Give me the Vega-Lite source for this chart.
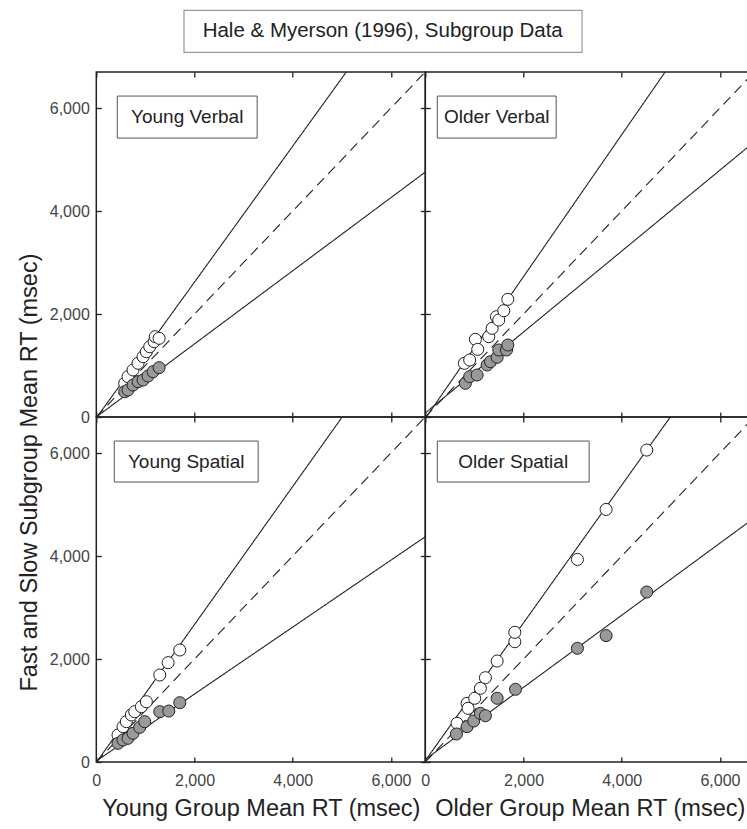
{
  "$schema": "https://vega.github.io/schema/vega-lite/v6.json",
  "padding": {"left": 16, "top": 9, "right": 0, "bottom": 0},
  "datasets": {
    "pts": [
      {"panel": "Young Verbal", "subgroup": "Slow", "group_rt": 578, "sub_rt": 654},
      {"panel": "Young Verbal", "subgroup": "Slow", "group_rt": 646, "sub_rt": 783},
      {"panel": "Young Verbal", "subgroup": "Slow", "group_rt": 748, "sub_rt": 913},
      {"panel": "Young Verbal", "subgroup": "Slow", "group_rt": 850, "sub_rt": 1043},
      {"panel": "Young Verbal", "subgroup": "Slow", "group_rt": 953, "sub_rt": 1171},
      {"panel": "Young Verbal", "subgroup": "Slow", "group_rt": 1020, "sub_rt": 1268},
      {"panel": "Young Verbal", "subgroup": "Slow", "group_rt": 1088, "sub_rt": 1365},
      {"panel": "Young Verbal", "subgroup": "Slow", "group_rt": 1177, "sub_rt": 1462},
      {"panel": "Young Verbal", "subgroup": "Slow", "group_rt": 1200, "sub_rt": 1560},
      {"panel": "Young Verbal", "subgroup": "Slow", "group_rt": 1279, "sub_rt": 1528},
      {"panel": "Young Verbal", "subgroup": "Fast", "group_rt": 578, "sub_rt": 491},
      {"panel": "Young Verbal", "subgroup": "Fast", "group_rt": 646, "sub_rt": 524},
      {"panel": "Young Verbal", "subgroup": "Fast", "group_rt": 748, "sub_rt": 621},
      {"panel": "Young Verbal", "subgroup": "Fast", "group_rt": 850, "sub_rt": 686},
      {"panel": "Young Verbal", "subgroup": "Fast", "group_rt": 953, "sub_rt": 718},
      {"panel": "Young Verbal", "subgroup": "Fast", "group_rt": 1054, "sub_rt": 796},
      {"panel": "Young Verbal", "subgroup": "Fast", "group_rt": 1156, "sub_rt": 880},
      {"panel": "Young Verbal", "subgroup": "Fast", "group_rt": 1279, "sub_rt": 958},

      {"panel": "Older Verbal", "subgroup": "Slow", "group_rt": 796, "sub_rt": 1042},
      {"panel": "Older Verbal", "subgroup": "Slow", "group_rt": 904, "sub_rt": 1107},
      {"panel": "Older Verbal", "subgroup": "Slow", "group_rt": 1020, "sub_rt": 1508},
      {"panel": "Older Verbal", "subgroup": "Slow", "group_rt": 1068, "sub_rt": 1314},
      {"panel": "Older Verbal", "subgroup": "Slow", "group_rt": 1292, "sub_rt": 1560},
      {"panel": "Older Verbal", "subgroup": "Slow", "group_rt": 1361, "sub_rt": 1722},
      {"panel": "Older Verbal", "subgroup": "Slow", "group_rt": 1449, "sub_rt": 1948},
      {"panel": "Older Verbal", "subgroup": "Slow", "group_rt": 1496, "sub_rt": 1883},
      {"panel": "Older Verbal", "subgroup": "Slow", "group_rt": 1598, "sub_rt": 2064},
      {"panel": "Older Verbal", "subgroup": "Slow", "group_rt": 1680, "sub_rt": 2285},
      {"panel": "Older Verbal", "subgroup": "Fast", "group_rt": 816, "sub_rt": 654},
      {"panel": "Older Verbal", "subgroup": "Fast", "group_rt": 904, "sub_rt": 783},
      {"panel": "Older Verbal", "subgroup": "Fast", "group_rt": 1055, "sub_rt": 816},
      {"panel": "Older Verbal", "subgroup": "Fast", "group_rt": 1259, "sub_rt": 1010},
      {"panel": "Older Verbal", "subgroup": "Fast", "group_rt": 1327, "sub_rt": 1074},
      {"panel": "Older Verbal", "subgroup": "Fast", "group_rt": 1463, "sub_rt": 1159},
      {"panel": "Older Verbal", "subgroup": "Fast", "group_rt": 1496, "sub_rt": 1301},
      {"panel": "Older Verbal", "subgroup": "Fast", "group_rt": 1653, "sub_rt": 1301},
      {"panel": "Older Verbal", "subgroup": "Fast", "group_rt": 1680, "sub_rt": 1398},

      {"panel": "Young Spatial", "subgroup": "Slow", "group_rt": 442, "sub_rt": 524},
      {"panel": "Young Spatial", "subgroup": "Slow", "group_rt": 544, "sub_rt": 686},
      {"panel": "Young Spatial", "subgroup": "Slow", "group_rt": 612, "sub_rt": 783},
      {"panel": "Young Spatial", "subgroup": "Slow", "group_rt": 714, "sub_rt": 913},
      {"panel": "Young Spatial", "subgroup": "Slow", "group_rt": 782, "sub_rt": 977},
      {"panel": "Young Spatial", "subgroup": "Slow", "group_rt": 918, "sub_rt": 1074},
      {"panel": "Young Spatial", "subgroup": "Slow", "group_rt": 1020, "sub_rt": 1171},
      {"panel": "Young Spatial", "subgroup": "Slow", "group_rt": 1293, "sub_rt": 1689},
      {"panel": "Young Spatial", "subgroup": "Slow", "group_rt": 1463, "sub_rt": 1929},
      {"panel": "Young Spatial", "subgroup": "Slow", "group_rt": 1700, "sub_rt": 2175},
      {"panel": "Young Spatial", "subgroup": "Fast", "group_rt": 442, "sub_rt": 363},
      {"panel": "Young Spatial", "subgroup": "Fast", "group_rt": 544, "sub_rt": 427},
      {"panel": "Young Spatial", "subgroup": "Fast", "group_rt": 646, "sub_rt": 460},
      {"panel": "Young Spatial", "subgroup": "Fast", "group_rt": 748, "sub_rt": 557},
      {"panel": "Young Spatial", "subgroup": "Fast", "group_rt": 884, "sub_rt": 673},
      {"panel": "Young Spatial", "subgroup": "Fast", "group_rt": 986, "sub_rt": 783},
      {"panel": "Young Spatial", "subgroup": "Fast", "group_rt": 1293, "sub_rt": 977},
      {"panel": "Young Spatial", "subgroup": "Fast", "group_rt": 1476, "sub_rt": 990},
      {"panel": "Young Spatial", "subgroup": "Fast", "group_rt": 1700, "sub_rt": 1152},

      {"panel": "Older Spatial", "subgroup": "Slow", "group_rt": 647, "sub_rt": 751},
      {"panel": "Older Spatial", "subgroup": "Slow", "group_rt": 851, "sub_rt": 1139},
      {"panel": "Older Spatial", "subgroup": "Slow", "group_rt": 871, "sub_rt": 1042},
      {"panel": "Older Spatial", "subgroup": "Slow", "group_rt": 1006, "sub_rt": 1237},
      {"panel": "Older Spatial", "subgroup": "Slow", "group_rt": 1122, "sub_rt": 1431},
      {"panel": "Older Spatial", "subgroup": "Slow", "group_rt": 1224, "sub_rt": 1637},
      {"panel": "Older Spatial", "subgroup": "Slow", "group_rt": 1463, "sub_rt": 1961},
      {"panel": "Older Spatial", "subgroup": "Slow", "group_rt": 1823, "sub_rt": 2336},
      {"panel": "Older Spatial", "subgroup": "Slow", "group_rt": 1823, "sub_rt": 2518},
      {"panel": "Older Spatial", "subgroup": "Slow", "group_rt": 3098, "sub_rt": 3934},
      {"panel": "Older Spatial", "subgroup": "Slow", "group_rt": 3682, "sub_rt": 4905},
      {"panel": "Older Spatial", "subgroup": "Slow", "group_rt": 4510, "sub_rt": 6058},
      {"panel": "Older Spatial", "subgroup": "Fast", "group_rt": 633, "sub_rt": 544},
      {"panel": "Older Spatial", "subgroup": "Fast", "group_rt": 851, "sub_rt": 686},
      {"panel": "Older Spatial", "subgroup": "Fast", "group_rt": 986, "sub_rt": 796},
      {"panel": "Older Spatial", "subgroup": "Fast", "group_rt": 1122, "sub_rt": 945},
      {"panel": "Older Spatial", "subgroup": "Fast", "group_rt": 1224, "sub_rt": 899},
      {"panel": "Older Spatial", "subgroup": "Fast", "group_rt": 1463, "sub_rt": 1237},
      {"panel": "Older Spatial", "subgroup": "Fast", "group_rt": 1837, "sub_rt": 1411},
      {"panel": "Older Spatial", "subgroup": "Fast", "group_rt": 3098, "sub_rt": 2208},
      {"panel": "Older Spatial", "subgroup": "Fast", "group_rt": 3682, "sub_rt": 2454},
      {"panel": "Older Spatial", "subgroup": "Fast", "group_rt": 4510, "sub_rt": 3301}
    ],
    "fits": [
      {"panel": "Young Verbal", "fit": "identity", "x": 0, "y": 0},
      {"panel": "Young Verbal", "fit": "identity", "x": 7000, "y": 7000},
      {"panel": "Young Verbal", "fit": "slow", "x": 0, "y": -20},
      {"panel": "Young Verbal", "fit": "slow", "x": 7000, "y": 9220},
      {"panel": "Young Verbal", "fit": "fast", "x": 0, "y": 0},
      {"panel": "Young Verbal", "fit": "fast", "x": 7000, "y": 4970},
      {"panel": "Older Verbal", "fit": "identity", "x": 0, "y": 0},
      {"panel": "Older Verbal", "fit": "identity", "x": 7000, "y": 7000},
      {"panel": "Older Verbal", "fit": "slow", "x": 0, "y": -30},
      {"panel": "Older Verbal", "fit": "slow", "x": 7000, "y": 9616},
      {"panel": "Older Verbal", "fit": "fast", "x": 0, "y": 78},
      {"panel": "Older Verbal", "fit": "fast", "x": 7000, "y": 5580},
      {"panel": "Young Spatial", "fit": "identity", "x": 0, "y": 0},
      {"panel": "Young Spatial", "fit": "identity", "x": 7000, "y": 7000},
      {"panel": "Young Spatial", "fit": "slow", "x": 0, "y": -10},
      {"panel": "Young Spatial", "fit": "slow", "x": 7000, "y": 9370},
      {"panel": "Young Spatial", "fit": "fast", "x": 0, "y": 20},
      {"panel": "Young Spatial", "fit": "fast", "x": 7000, "y": 4570},
      {"panel": "Older Spatial", "fit": "identity", "x": 0, "y": 0},
      {"panel": "Older Spatial", "fit": "identity", "x": 7000, "y": 7000},
      {"panel": "Older Spatial", "fit": "slow", "x": 0, "y": 26},
      {"panel": "Older Spatial", "fit": "slow", "x": 7000, "y": 9389},
      {"panel": "Older Spatial", "fit": "fast", "x": 0, "y": 50},
      {"panel": "Older Spatial", "fit": "fast", "x": 7000, "y": 4950}
    ]
  },
  "vconcat": [
    {
      "data": {"values": [{"label": "Hale & Myerson (1996), Subgroup Data"}]},
      "width": 398,
      "height": 42,
      "view": {"stroke": "#999", "strokeWidth": 1.2},
      "mark": {"type": "text", "fontSize": 20.5, "font": "Liberation Sans", "color": "#222"},
      "encoding": {
        "text": {"field": "label"},
        "y": {"datum": 0.5, "type": "quantitative", "scale": {"domain": [0, 1]}, "axis": {"orient": "right", "title": ".", "titleColor": "transparent", "titleFontSize": 4, "titlePadding": 82, "labels": false, "ticks": false, "domain": false}}
      }
    },
    {
      "columns": 2,
      "spacing": 0,
      "bounds": "flush",
      "concat": [
        {
          "width": 329, "height": 345,
          "layer": [
            {
              "data": {"name": "fits"},
              "transform": [{"filter": "datum.panel === 'Young Verbal'"}],
              "mark": {"type": "line", "clip": true, "color": "#222", "strokeWidth": 1.1},
              "encoding": {
                "x": {"field": "x", "type": "quantitative", "scale": {"domain": [0, 6700], "nice": false, "zero": false}, "axis": {"orient": "top", "values": [0, 2000, 4000, 6000], "labels": false, "title": null, "tickSize": 5, "offset": -5}},
                "y": {"field": "y", "type": "quantitative", "scale": {"domain": [0, 6700], "nice": false, "zero": false}, "axis": {"orient": "right", "values": [0, 2000, 4000, 6000], "labels": false, "title": null, "tickSize": 5, "offset": -5}},
                "detail": {"field": "fit"},
                "strokeDash": {"field": "fit", "scale": {"domain": ["identity", "slow", "fast"], "range": [[10, 6], [1, 0], [1, 0]]}, "legend": null}
              }
            },
            {
              "data": {"name": "pts"},
              "transform": [{"filter": "datum.panel === 'Young Verbal'"}],
              "mark": {"type": "point", "filled": true, "size": 145, "stroke": "#222", "strokeWidth": 1, "opacity": 1},
              "encoding": {
                "x": {"field": "group_rt", "type": "quantitative", "axis": {"orient": "bottom", "values": [0, 2000, 4000, 6000], "labels": false, "title": null, "tickSize": 5, "offset": -5}},
                "y": {"field": "sub_rt", "type": "quantitative", "axis": {"orient": "left", "values": [0, 2000, 4000, 6000], "labelExpr": "format(datum.value, ',')", "tickSize": 5, "offset": -5, "labelPadding": 7, "title": "Fast and Slow Subgroup Mean RT (msec)", "titleX": -60, "titleY": 400, "titleAngle": -90, "titleAlign": "center", "titleBaseline": "bottom"}},
                "fill": {"field": "subgroup", "scale": {"domain": ["Slow", "Fast"], "range": ["#ffffff", "#999999"]}, "legend": null}
              }
            },
            {
              "data": {"values": [{"panel": "Young Verbal"}]},
              "mark": {"type": "rect", "fill": "white", "stroke": "#555", "strokeWidth": 1},
              "encoding": {"x": {"datum": 427, "axis": null}, "x2": {"datum": 3276}, "y": {"datum": 6233, "axis": null}, "y2": {"datum": 5417}}
            },
            {
              "data": {"values": [{"panel": "Young Verbal"}]},
              "mark": {"type": "text", "fontSize": 19, "font": "Liberation Sans", "color": "#222"},
              "encoding": {"x": {"datum": 1851, "axis": null}, "y": {"datum": 5825, "axis": null}, "text": {"field": "panel"}}
            }
          ],
          "resolve": {"axis": {"x": "independent", "y": "independent"}}
        },
        {
          "width": 329, "height": 345,
          "layer": [
            {
              "data": {"name": "fits"},
              "transform": [{"filter": "datum.panel === 'Older Verbal'"}],
              "mark": {"type": "line", "clip": true, "color": "#222", "strokeWidth": 1.1},
              "encoding": {
                "x": {"field": "x", "type": "quantitative", "scale": {"domain": [0, 6700], "nice": false, "zero": false}, "axis": {"orient": "top", "values": [0, 2000, 4000, 6000], "labels": false, "title": null, "tickSize": 5, "offset": -5}},
                "y": {"field": "y", "type": "quantitative", "scale": {"domain": [0, 6700], "nice": false, "zero": false}, "axis": {"orient": "right", "values": [0, 2000, 4000, 6000], "labels": false, "title": null, "tickSize": 5, "offset": -5}},
                "detail": {"field": "fit"},
                "strokeDash": {"field": "fit", "scale": {"domain": ["identity", "slow", "fast"], "range": [[10, 6], [1, 0], [1, 0]]}, "legend": null}
              }
            },
            {
              "data": {"name": "pts"},
              "transform": [{"filter": "datum.panel === 'Older Verbal'"}],
              "mark": {"type": "point", "filled": true, "size": 145, "stroke": "#222", "strokeWidth": 1, "opacity": 1},
              "encoding": {
                "x": {"field": "group_rt", "type": "quantitative", "axis": {"orient": "bottom", "values": [0, 2000, 4000, 6000], "labels": false, "title": null, "tickSize": 5, "offset": -5}},
                "y": {"field": "sub_rt", "type": "quantitative", "axis": {"orient": "left", "values": [0, 2000, 4000, 6000], "labels": false, "title": null, "tickSize": 5, "offset": -5}},
                "fill": {"field": "subgroup", "scale": {"domain": ["Slow", "Fast"], "range": ["#ffffff", "#999999"]}, "legend": null}
              }
            },
            {
              "data": {"values": [{"panel": "Older Verbal"}]},
              "mark": {"type": "rect", "fill": "white", "stroke": "#555", "strokeWidth": 1},
              "encoding": {"x": {"datum": 244, "axis": null}, "x2": {"datum": 2665}, "y": {"datum": 6233, "axis": null}, "y2": {"datum": 5417}}
            },
            {
              "data": {"values": [{"panel": "Older Verbal"}]},
              "mark": {"type": "text", "fontSize": 19, "font": "Liberation Sans", "color": "#222"},
              "encoding": {"x": {"datum": 1455, "axis": null}, "y": {"datum": 5825, "axis": null}, "text": {"field": "panel"}}
            }
          ],
          "resolve": {"axis": {"x": "independent", "y": "independent"}}
        },
        {
          "width": 329, "height": 345,
          "layer": [
            {
              "data": {"name": "fits"},
              "transform": [{"filter": "datum.panel === 'Young Spatial'"}],
              "mark": {"type": "line", "clip": true, "color": "#222", "strokeWidth": 1.1},
              "encoding": {
                "x": {"field": "x", "type": "quantitative", "scale": {"domain": [0, 6700], "nice": false, "zero": false}, "axis": {"orient": "top", "values": [0, 2000, 4000, 6000], "labels": false, "title": null, "tickSize": 5, "offset": -5}},
                "y": {"field": "y", "type": "quantitative", "scale": {"domain": [0, 6700], "nice": false, "zero": false}, "axis": {"orient": "right", "values": [0, 2000, 4000, 6000], "labels": false, "title": null, "tickSize": 5, "offset": -5}},
                "detail": {"field": "fit"},
                "strokeDash": {"field": "fit", "scale": {"domain": ["identity", "slow", "fast"], "range": [[10, 6], [1, 0], [1, 0]]}, "legend": null}
              }
            },
            {
              "data": {"name": "pts"},
              "transform": [{"filter": "datum.panel === 'Young Spatial'"}],
              "mark": {"type": "point", "filled": true, "size": 145, "stroke": "#222", "strokeWidth": 1, "opacity": 1},
              "encoding": {
                "x": {"field": "group_rt", "type": "quantitative", "axis": {"orient": "bottom", "values": [0, 2000, 4000, 6000], "labelExpr": "format(datum.value, ',')", "tickSize": 5, "offset": -5, "labelPadding": 10, "title": "Young Group Mean RT (msec)", "titlePadding": 8}},
                "y": {"field": "sub_rt", "type": "quantitative", "axis": {"orient": "left", "values": [0, 2000, 4000, 6000], "labelExpr": "format(datum.value, ',')", "tickSize": 5, "offset": -5, "labelPadding": 7, "title": null}},
                "fill": {"field": "subgroup", "scale": {"domain": ["Slow", "Fast"], "range": ["#ffffff", "#999999"]}, "legend": null}
              }
            },
            {
              "data": {"values": [{"panel": "Young Spatial"}]},
              "mark": {"type": "rect", "fill": "white", "stroke": "#555", "strokeWidth": 1},
              "encoding": {"x": {"datum": 366, "axis": null}, "x2": {"datum": 3296}, "y": {"datum": 6233, "axis": null}, "y2": {"datum": 5437}}
            },
            {
              "data": {"values": [{"panel": "Young Spatial"}]},
              "mark": {"type": "text", "fontSize": 19, "font": "Liberation Sans", "color": "#222"},
              "encoding": {"x": {"datum": 1831, "axis": null}, "y": {"datum": 5835, "axis": null}, "text": {"field": "panel"}}
            }
          ],
          "resolve": {"axis": {"x": "independent", "y": "independent"}}
        },
        {
          "width": 329, "height": 345,
          "layer": [
            {
              "data": {"name": "fits"},
              "transform": [{"filter": "datum.panel === 'Older Spatial'"}],
              "mark": {"type": "line", "clip": true, "color": "#222", "strokeWidth": 1.1},
              "encoding": {
                "x": {"field": "x", "type": "quantitative", "scale": {"domain": [0, 6700], "nice": false, "zero": false}, "axis": {"orient": "top", "values": [0, 2000, 4000, 6000], "labels": false, "title": null, "tickSize": 5, "offset": -5}},
                "y": {"field": "y", "type": "quantitative", "scale": {"domain": [0, 6700], "nice": false, "zero": false}, "axis": {"orient": "right", "values": [0, 2000, 4000, 6000], "labels": false, "title": null, "tickSize": 5, "offset": -5}},
                "detail": {"field": "fit"},
                "strokeDash": {"field": "fit", "scale": {"domain": ["identity", "slow", "fast"], "range": [[10, 6], [1, 0], [1, 0]]}, "legend": null}
              }
            },
            {
              "data": {"name": "pts"},
              "transform": [{"filter": "datum.panel === 'Older Spatial'"}],
              "mark": {"type": "point", "filled": true, "size": 145, "stroke": "#222", "strokeWidth": 1, "opacity": 1},
              "encoding": {
                "x": {"field": "group_rt", "type": "quantitative", "axis": {"orient": "bottom", "values": [0, 2000, 4000, 6000], "labelExpr": "format(datum.value, ',')", "tickSize": 5, "offset": -5, "labelPadding": 10, "title": "Older Group Mean RT (msec)", "titlePadding": 8}},
                "y": {"field": "sub_rt", "type": "quantitative", "axis": {"orient": "left", "values": [0, 2000, 4000, 6000], "labels": false, "title": null, "tickSize": 5, "offset": -5}},
                "fill": {"field": "subgroup", "scale": {"domain": ["Slow", "Fast"], "range": ["#ffffff", "#999999"]}, "legend": null}
              }
            },
            {
              "data": {"values": [{"panel": "Older Spatial"}]},
              "mark": {"type": "rect", "fill": "white", "stroke": "#555", "strokeWidth": 1},
              "encoding": {"x": {"datum": 244, "axis": null}, "x2": {"datum": 3337}, "y": {"datum": 6233, "axis": null}, "y2": {"datum": 5437}}
            },
            {
              "data": {"values": [{"panel": "Older Spatial"}]},
              "mark": {"type": "text", "fontSize": 19, "font": "Liberation Sans", "color": "#222"},
              "encoding": {"x": {"datum": 1790, "axis": null}, "y": {"datum": 5835, "axis": null}, "text": {"field": "panel"}}
            }
          ],
          "resolve": {"axis": {"x": "independent", "y": "independent"}}
        }
      ]
    }
  ],
  "center": true,
  "spacing": 17,
  "config": {
    "view": {"stroke": "#222", "strokeWidth": 1.5},
    "axis": {
      "labelFont": "Liberation Sans", "labelFontSize": 16, "labelColor": "#444", "labelFlush": false,
      "tickColor": "#222", "tickWidth": 1.3, "domain": false, "grid": false,
      "titleFont": "Liberation Sans", "titleFontSize": 23.5, "titleFontWeight": "normal", "titleColor": "#222"
    },
    "text": {"font": "Liberation Sans"}
  }
}
